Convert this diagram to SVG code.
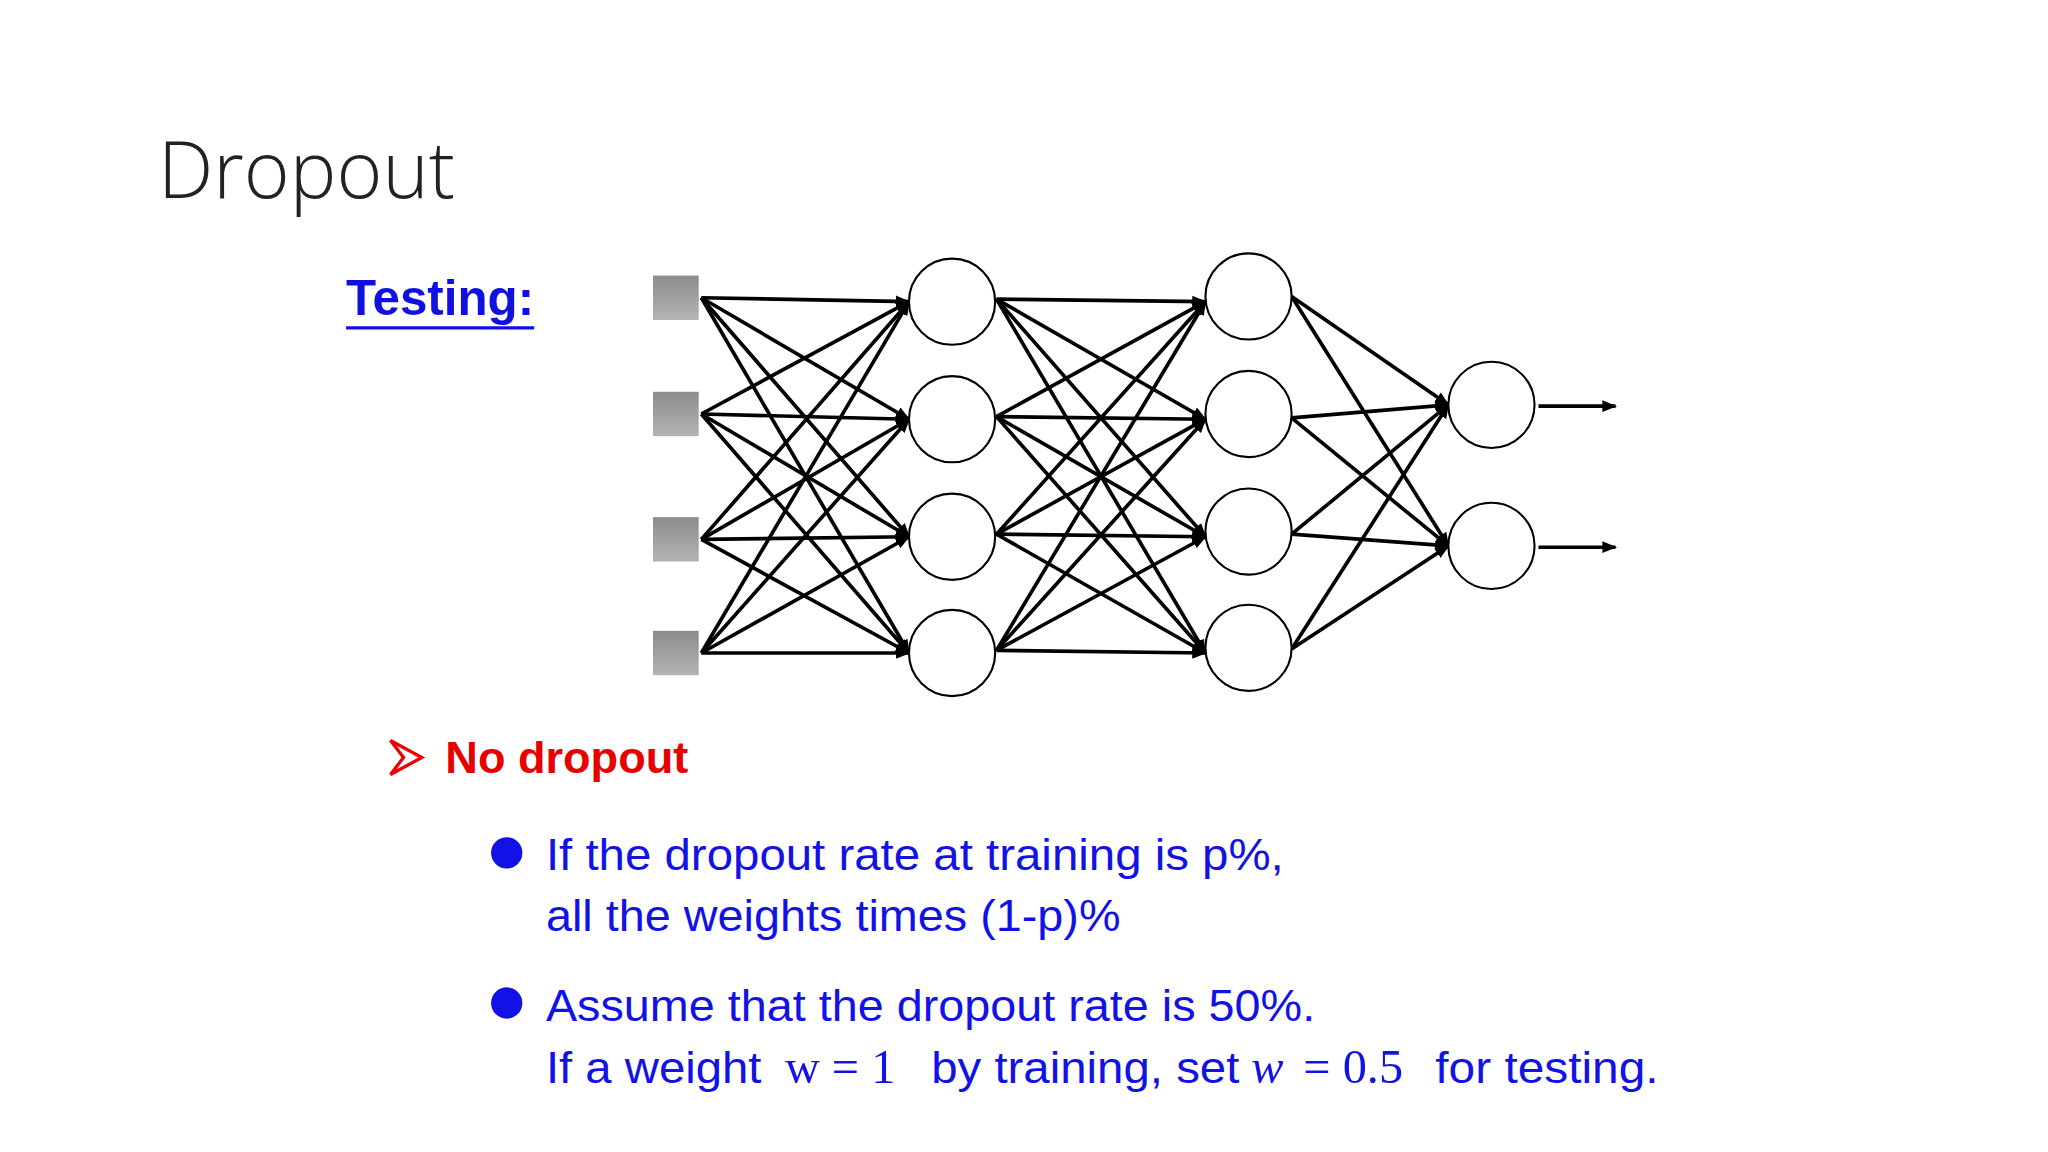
<svg xmlns="http://www.w3.org/2000/svg" width="2048" height="1152" viewBox="0 0 2048 1152">
<defs>
<linearGradient id="sq" x1="0" y1="0" x2="0" y2="1"><stop offset="0" stop-color="#8c8c8c"/><stop offset="1" stop-color="#b4b4b4"/></linearGradient>
<marker id="ah" viewBox="0 0 10 10" refX="9" refY="5" markerWidth="4" markerHeight="4" orient="auto"><path d="M0,1 L10,5 L0,9 z" fill="#000"/></marker>
</defs>
<style>
.e line{stroke:#000;stroke-width:2.8;marker-end:url(#ah)}
.n{fill:#fff;stroke:#000;stroke-width:1.6}
.b{fill:#1212e6;font-family:"Liberation Sans",Arial,sans-serif;font-size:34px}
.m{font-family:"Liberation Serif",serif;font-size:37px}
</style>
<rect width="2048" height="1152" fill="#fff"/>
<g transform="scale(1.306)">
<text x="121" y="152" font-family="Open Sans, sans-serif" font-weight="300" font-size="60" fill="#222">Dropout</text>
<text x="265" y="241" font-family="Liberation Sans, Arial, sans-serif" font-weight="bold" font-size="38" fill="#1010e0" textLength="144" lengthAdjust="spacingAndGlyphs">Testing:</text>
<line x1="265" y1="251" x2="409" y2="251" stroke="#1010e0" stroke-width="2.5"/>
<g id="connectors" class="e">
<line x1="537" y1="228" x2="696" y2="231"/><line x1="537" y1="228" x2="696" y2="321"/><line x1="537" y1="228" x2="696" y2="411"/><line x1="537" y1="228" x2="696" y2="500"/>
<line x1="537" y1="317" x2="696" y2="231"/><line x1="537" y1="317" x2="696" y2="321"/><line x1="537" y1="317" x2="696" y2="411"/><line x1="537" y1="317" x2="696" y2="500"/>
<line x1="537" y1="413" x2="696" y2="231"/><line x1="537" y1="413" x2="696" y2="321"/><line x1="537" y1="413" x2="696" y2="411"/><line x1="537" y1="413" x2="696" y2="500"/>
<line x1="537" y1="500" x2="696" y2="231"/><line x1="537" y1="500" x2="696" y2="321"/><line x1="537" y1="500" x2="696" y2="411"/><line x1="537" y1="500" x2="696" y2="500"/>
<line x1="763" y1="229" x2="923" y2="231"/><line x1="763" y1="229" x2="923" y2="321"/><line x1="763" y1="229" x2="923" y2="411"/><line x1="763" y1="229" x2="923" y2="500"/>
<line x1="763" y1="319" x2="923" y2="231"/><line x1="763" y1="319" x2="923" y2="321"/><line x1="763" y1="319" x2="923" y2="411"/><line x1="763" y1="319" x2="923" y2="500"/>
<line x1="763" y1="409" x2="923" y2="231"/><line x1="763" y1="409" x2="923" y2="321"/><line x1="763" y1="409" x2="923" y2="411"/><line x1="763" y1="409" x2="923" y2="500"/>
<line x1="763" y1="498" x2="923" y2="231"/><line x1="763" y1="498" x2="923" y2="321"/><line x1="763" y1="498" x2="923" y2="411"/><line x1="763" y1="498" x2="923" y2="500"/>
<line x1="989" y1="227" x2="1109" y2="310"/><line x1="989" y1="227" x2="1109" y2="418"/>
<line x1="989" y1="320" x2="1109" y2="310"/><line x1="989" y1="320" x2="1109" y2="418"/>
<line x1="989" y1="409" x2="1109" y2="310"/><line x1="989" y1="409" x2="1109" y2="418"/>
<line x1="989" y1="497" x2="1109" y2="310"/><line x1="989" y1="497" x2="1109" y2="418"/>
<line x1="1178" y1="311" x2="1237" y2="311"/><line x1="1178" y1="419" x2="1237" y2="419"/>
</g>
<g id="inputs">
<rect id="i1" x="500" y="211" width="35" height="34" fill="url(#sq)"/>
<rect id="i2" x="500" y="300" width="35" height="34" fill="url(#sq)"/>
<rect id="i3" x="500" y="396" width="35" height="34" fill="url(#sq)"/>
<rect id="i4" x="500" y="483" width="35" height="34" fill="url(#sq)"/>
</g>
<g id="h1"><circle class="n" cx="729" cy="231" r="33"/><circle class="n" cx="729" cy="321" r="33"/><circle class="n" cx="729" cy="411" r="33"/><circle class="n" cx="729" cy="500" r="33"/></g>
<g id="h2"><circle class="n" cx="956" cy="227" r="33"/><circle class="n" cx="956" cy="317" r="33"/><circle class="n" cx="956" cy="407" r="33"/><circle class="n" cx="956" cy="496" r="33"/></g>
<g id="out"><circle class="n" cx="1142" cy="310" r="33"/><circle class="n" cx="1142" cy="418" r="33"/></g>
<path d="M299,567 L323,580 L299,593 L309,580 Z" fill="none" stroke="#e00" stroke-width="2.5"/>
<text x="341" y="592" font-family="Liberation Sans, Arial, sans-serif" font-weight="bold" font-size="34" fill="#e80000" textLength="186" lengthAdjust="spacingAndGlyphs">No dropout</text>
<circle cx="388" cy="653" r="12" fill="#1212e6"/>
<circle cx="388" cy="768" r="12" fill="#1212e6"/>
<text class="b" x="418" y="666" textLength="565" lengthAdjust="spacingAndGlyphs">If the dropout rate at training is p%,</text>
<text class="b" x="418" y="713" textLength="440" lengthAdjust="spacingAndGlyphs">all the weights times (1-p)%</text>
<text class="b" x="418" y="782" textLength="589" lengthAdjust="spacingAndGlyphs">Assume that the dropout rate is 50%.</text>
<text class="b" x="418" y="829"><tspan textLength="165" lengthAdjust="spacingAndGlyphs">If a weight</tspan><tspan class="m" x="601">w = 1</tspan><tspan x="713" textLength="236" lengthAdjust="spacingAndGlyphs">by training, set</tspan><tspan class="m" x="958" font-style="italic">w</tspan><tspan class="m" x="998">= 0.5</tspan><tspan x="1099" textLength="171" lengthAdjust="spacingAndGlyphs">for testing.</tspan></text>
</g>
</svg>
